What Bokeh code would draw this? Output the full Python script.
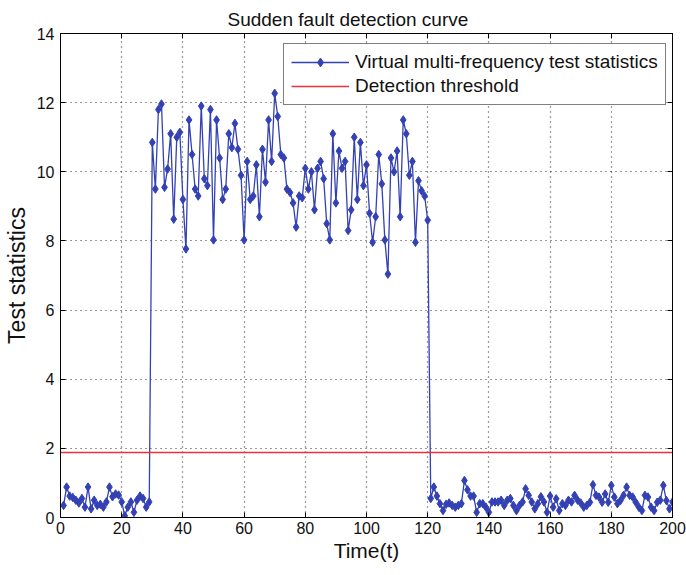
from bokeh.plotting import figure
from bokeh.models import LinearAxis, Range1d, Legend, LegendItem, FixedTicker
from bokeh.embed import file_html
from bokeh.resources import INLINE

# ---- data ----
normal_before = [0.35, 0.88, 0.62, 0.58, 0.5, 0.42, 0.55, 0.3, 0.88, 0.25,
                 0.5, 0.35, 0.38, 0.3, 0.45, 0.88, 0.6, 0.68, 0.65, 0.45,
                 0.05, 0.3, 0.45, 0.15, 0.5, 0.62, 0.55, 0.3, 0.45]
fault_values = [10.85, 9.5, 11.8, 11.96, 9.55, 10.08, 11.1, 8.63, 11.0, 11.14,
                9.2, 7.77, 11.5, 10.5, 9.5, 9.3, 11.9, 9.8, 9.6, 11.8,
                8.03, 11.5, 10.4, 9.2, 9.5, 11.1, 10.7, 11.4, 10.65, 9.9,
                8.03, 10.3, 9.2, 9.3, 10.2, 8.7, 10.65, 9.7, 11.5, 10.3,
                12.27, 11.6, 10.5, 10.4, 9.5, 9.4, 9.1, 8.4, 9.3, 9.25,
                10.1, 9.5, 10.0, 8.9, 10.1, 10.3, 9.8, 8.5, 8.03, 11.1,
                9.1, 10.6, 10.1, 10.3, 8.3, 8.9, 11.0, 9.2, 10.85, 9.6,
                10.2, 8.8, 7.96, 8.7, 10.5, 9.65, 8.03, 7.04, 10.4, 10.0,
                10.6, 8.7, 11.5, 11.1, 9.9, 10.3, 7.96, 9.74, 9.45, 9.3, 8.6]
normal_after = [0.55, 0.88, 0.62, 0.4, 0.2, 0.38, 0.42, 0.35, 0.3, 0.35,
                0.4, 1.07, 0.8, 0.62, 0.62, 0.15, 0.4, 0.4, 0.3, 0.15,
                0.45, 0.45, 0.45, 0.5, 0.35, 0.5, 0.55, 0.35, 0.2, 0.35,
                0.45, 0.83, 0.64, 0.45, 0.25, 0.4, 0.6, 0.45, 0.15, 0.62,
                0.3, 0.54, 0.2, 0.4, 0.35, 0.5, 0.45, 0.64, 0.5, 0.42,
                0.3, 0.35, 0.44, 0.95, 0.64, 0.59, 0.44, 0.68, 0.44, 0.93,
                0.59, 0.4, 0.49, 0.64, 0.88, 0.64, 0.59, 0.44, 0.3, 0.2,
                0.64, 0.59, 0.3, 0.2, 0.44, 0.5, 0.93, 0.49, 0.25, 0.45]
test_stat = normal_before + fault_values + normal_after
time = list(range(1, len(test_stat) + 1))
threshold = 1.88
threshold_x = [0, 200]

x_ticks = [0, 20, 40, 60, 80, 100, 120, 140, 160, 180, 200]
y_ticks = [0, 2, 4, 6, 8, 10, 12, 14]

FONT = "Liberation Sans"
BLUE = "#3341b4"
RED = "#e8323c"

p = figure(width=686, height=575, output_backend="svg", toolbar_location=None,
           x_range=Range1d(0, 200), y_range=Range1d(0, 14),
           min_border_left=60, min_border_right=14, min_border_top=33,
           min_border_bottom=58)

p.title.text = "Sudden fault detection curve"
p.title.text_font = FONT
p.title.text_font_size = "19px"
p.title.text_font_style = "normal"
p.title.align = "left"
p.title.offset = 167
p.title.text_color = "#111111"
p.title.standoff = 8

p.outline_line_color = "black"
p.outline_line_width = 1
p.background_fill_color = "white"
p.border_fill_color = "white"

for ax in p.xaxis:
    ax.ticker = FixedTicker(ticks=x_ticks)
for ax in p.yaxis:
    ax.ticker = FixedTicker(ticks=y_ticks)

p.xaxis.axis_label = "Time(t)"
p.yaxis.axis_label = "Test statistics"
for ax in [p.xaxis[0], p.yaxis[0]]:
    ax.axis_label_text_font = FONT
    ax.axis_label_text_font_style = "normal"
    ax.axis_label_text_color = "#111111"
    ax.major_label_text_font = FONT
    ax.major_label_text_font_size = "16px"
    ax.major_label_text_color = "#111111"
    ax.major_tick_in = 5
    ax.major_tick_out = 0
    ax.minor_tick_line_color = None
    ax.axis_line_color = "black"
    ax.major_tick_line_color = "black"
p.xaxis.axis_label_text_font_size = "21px"
p.yaxis.axis_label_text_font_size = "23px"
p.xaxis.axis_label_standoff = 2
p.yaxis.axis_label_standoff = 4
p.xaxis.major_label_standoff = 4
p.yaxis.major_label_standoff = 6

top_axis = LinearAxis(ticker=FixedTicker(ticks=x_ticks), major_label_text_font_size="1px",
                      major_label_text_color=None,
                      major_tick_in=5, major_tick_out=0, minor_tick_line_color=None,
                      major_label_standoff=0)
right_axis = LinearAxis(ticker=FixedTicker(ticks=y_ticks), major_label_text_font_size="1px",
                        major_label_text_color=None,
                        major_tick_in=5, major_tick_out=0, minor_tick_line_color=None,
                        major_label_standoff=0)
p.add_layout(top_axis, "above")
p.add_layout(right_axis, "right")

p.xgrid.grid_line_color = "black"
p.ygrid.grid_line_color = "black"
p.xgrid.grid_line_dash = "1 4"
p.ygrid.grid_line_dash = "1 4"
p.xgrid.grid_line_width = 1.2
p.ygrid.grid_line_width = 1.2
p.xgrid.grid_line_alpha = 0.8
p.ygrid.grid_line_alpha = 0.8

r_line = p.line(time, test_stat, line_color=BLUE, line_width=1.3)
r_pts = p.scatter(time, test_stat, marker="diamond", size=8.5, fill_color=BLUE,
                  line_color=BLUE)
r_thr = p.line(threshold_x, [threshold, threshold], line_color=RED, line_width=1.5)

legend = Legend(items=[
    LegendItem(label="Virtual multi-frequency test statistics", renderers=[r_line, r_pts]),
    LegendItem(label="Detection threshold", renderers=[r_thr]),
], location=(223, 412))
legend.label_text_font = FONT
legend.label_text_font_size = "19px"
legend.label_text_color = "#111111"
legend.border_line_color = "black"
legend.border_line_width = 1
legend.glyph_width = 58
legend.glyph_height = 22
legend.label_height = 22
legend.spacing = 2
legend.padding = 7
legend.margin = 0
legend.label_standoff = 6
legend.background_fill_alpha = 1
p.add_layout(legend)

open("out.html", "w").write(file_html(p, INLINE))
